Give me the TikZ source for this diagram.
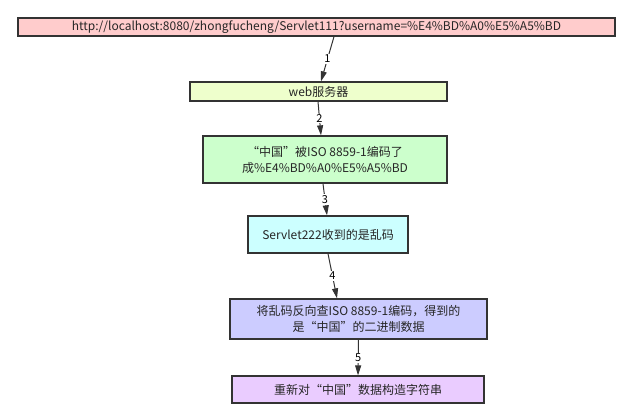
\documentclass[tikz,border=0pt]{standalone}
\usepackage{fontspec}
\setmainfont{Noto Sans CJK SC}
\usetikzlibrary{arrows.meta}

\definecolor{urlpink}{RGB}{255,204,204}
\definecolor{webyellow}{RGB}{238,255,204}
\definecolor{encgreen}{RGB}{204,255,204}
\definecolor{garbcyan}{RGB}{204,255,255}
\definecolor{lookblue}{RGB}{204,204,255}
\definecolor{buildpurple}{RGB}{234,204,255}
\definecolor{edge}{RGB}{51,51,51}

\tikzset{
  box/.style={draw=edge, line width=1.3pt, inner sep=0pt, align=center,
    font=\fontsize{12}{16}\selectfont, text=black!85},
  flow/.style={draw=edge, line width=1pt,
    -{Triangle[length=10pt,width=6pt]}},
  stepno/.style={fill=white, inner sep=1pt, font=\fontsize{11}{12}\selectfont}
}

\begin{document}
\begin{tikzpicture}[x=1pt, y=-1pt]
\useasboundingbox (0,0) rectangle (629,408);

\def\xa{316.5}
\def\xb{318.5}
\def\xc{325}
\def\xd{328}
\def\xe{358.5}

\node[box, fill=urlpink, minimum width=597pt, minimum height=18pt] (url) at (\xa, 27)
  {http://localhost:8080/zhongfucheng/Servlet111?username=\%E4\%BD\%A0\%E5\%A5\%BD};
\node[box, fill=webyellow, minimum width=257pt, minimum height=19pt] (web) at (\xb, 91.5)
  {web服务器};
\node[box, fill=encgreen, minimum width=244pt, minimum height=47pt] (encode) at (\xc, 159.5)
  {“中国”被ISO 8859-1编码了\\成\%E4\%BD\%A0\%E5\%A5\%BD};
\node[box, fill=garbcyan, minimum width=160pt, minimum height=37pt] (garbled) at (\xd, 234.5)
  {Servlet222收到的是乱码};
\node[box, fill=lookblue, minimum width=257pt, minimum height=40pt] (lookup) at (\xe, 319)
  {将乱码反向查ISO 8859-1编码，得到的\\是“中国”的二进制数据};
\node[box, fill=buildpurple, minimum width=252pt, minimum height=27pt] (rebuild) at (358, 389.5)
  {重新对“中国”数据构造字符串};

\draw[flow] ([xshift=17.5pt]url.south) -- node[stepno] {1} ([xshift=2.5pt]web.north);
\draw[flow] ([xshift=-0.5pt]web.south) -- node[stepno] {2} ([xshift=-4pt]encode.north);
\draw[flow] ([xshift=-2pt]encode.south) -- node[stepno] {3} ([xshift=-1pt]garbled.north);
\draw[flow] (garbled.south) -- node[stepno] {4} ([xshift=-21.5pt]lookup.north);
\draw[flow] (lookup.south) -- node[stepno] {5} (rebuild.north);
\end{tikzpicture}
\end{document}
